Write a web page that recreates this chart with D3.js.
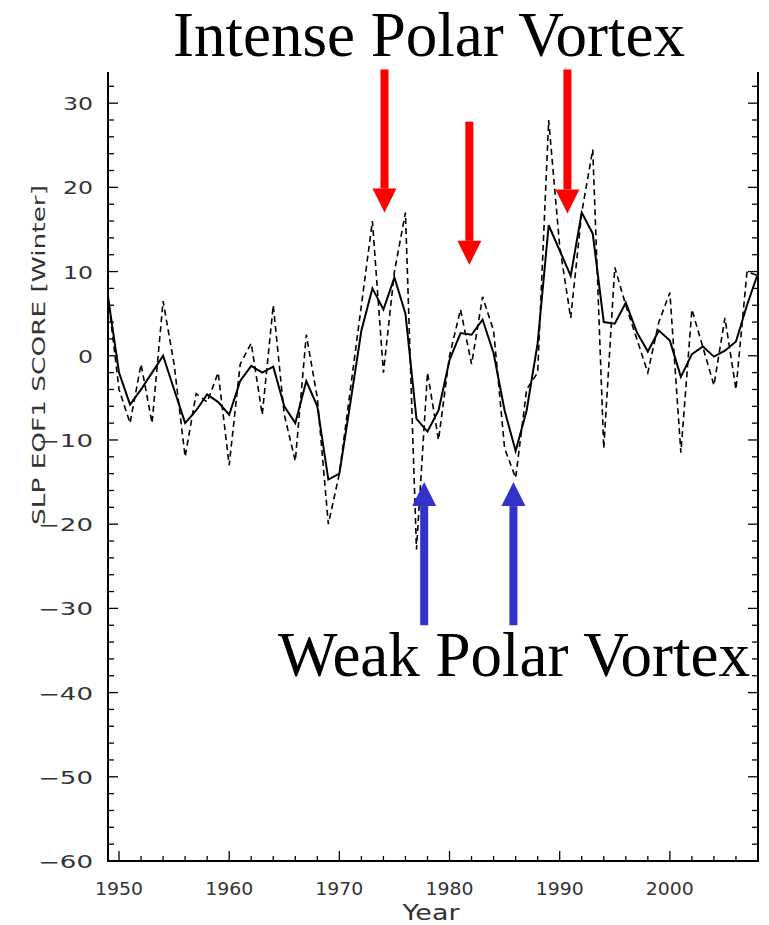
<!DOCTYPE html>
<html>
<head>
<meta charset="utf-8">
<script src="https://cdn.jsdelivr.net/npm/d3@7"></script>
<style>
  body { margin: 0; background: #fff; }
  svg { display: block; }
</style>
</head>
<body>
<svg id="chart" width="769" height="925"></svg>
<script>
// winter SLP EOF1 score, yearly values (dashed) and smoothed curve (solid)
var years = d3.range(1949, 2009);
var annual = [7, -4, -8, -1, -8, 6.5, -1, -12, -4.5, -5.5,
  -2, -13, -1, 1.5, -7, 6, -7, -12.5, 2.5, -5,
  -20, -14, -4, 6, 16, -2, 10, 17, -23, -2,
  -10, 0, 5.5, -1, 7, 3, -11, -14.5, -4, -2,
  28, 13, 4.5, 17, 24.5, -11, 10.5, 6, 2, -2,
  4, 7.5, -11.5, 5.5, 1, -3.5, 4.5, -4, 10, 9.5];
var smooth = [7, -2, -5.8, -4, -2, 0, -4, -8, -6.5, -4.6,
  -5.5, -7, -3, -1.2, -2, -1.3, -6, -8, -3, -6,
  -14.7, -14, -5.6, 3, 8, 5.5, 9.3, 5, -7.5, -9,
  -6.5, -0.5, 2.7, 2.5, 4.3, 0.3, -6.5, -11.3, -6.5, 1.5,
  15.5, 12.5, 9.5, 17, 14.5, 4, 3.8, 6.3, 2.8, 0.5,
  3, 1.8, -2.5, 0.2, 1.1, -0.1, 0.6, 1.7, 6, 9.8];
var yTicks = [30, 20, 10, 0, -10, -20, -30, -40, -50, -60];
var xTicks = [1950, 1960, 1970, 1980, 1990, 2000];
// annotation arrows: year, tip value, tail value
var intenseArrows = [[1974.1, 17, 34], [1981.8, 10.8, 27.8], [1990.7, 16.9, 34]];
var weakArrows = [[1977.7, -15, -32], [1985.8, -15, -32]];

var svg = d3.select('#chart'),
  pLeft = 108, pRight = 758, pTop = 72, pBottom = 861;

var x = d3.scaleLinear().domain([1949, 2008]).range([pLeft, pRight]);
var y = d3.scaleLinear().domain([-60, 33.7]).range([pBottom, pTop]);

var tickFont = '"DejaVu Sans", Verdana, sans-serif',
  serif = '"Liberation Serif", "Times New Roman", serif';

// frame: left, bottom and right lines, no top
svg.append('path')
  .attr('d', 'M' + pLeft + ',' + pTop + 'V' + pBottom + 'H' + pRight + 'V' + pTop)
  .attr('fill', 'none').attr('stroke', '#000').attr('stroke-width', 2);

// minor + major ticks, pointing inward
var yMinor = d3.range(-60, 34, 2), xMinor = d3.range(1950, 2009, 2);
var g = svg.append('g').attr('stroke', '#000').attr('stroke-width', 1.3);
yMinor.forEach(function (v) {
  var len = v % 10 === 0 ? 10 : 6;
  g.append('line').attr('x1', pLeft).attr('x2', pLeft + len).attr('y1', y(v)).attr('y2', y(v));
  g.append('line').attr('x1', pRight).attr('x2', pRight - len).attr('y1', y(v)).attr('y2', y(v));
});
xMinor.forEach(function (v) {
  var len = v % 10 === 0 ? 10 : 5;
  g.append('line').attr('x1', x(v)).attr('x2', x(v)).attr('y1', pBottom).attr('y2', pBottom - len);
});

// tick labels (wide, plotter-like lettering)
svg.append('g').selectAll('text').data(yTicks).join('text')
  .attr('x', 93).attr('y', function (d) { return y(d) + 7; })
  .attr('text-anchor', 'end')
  .attr('font-family', tickFont).attr('font-size', 17).attr('fill', '#333')
  .attr('textLength', function (d) { return String(Math.abs(d)).length * 15 + (d < 0 ? 25 : 0); })
  .attr('lengthAdjust', 'spacingAndGlyphs')
  .text(function (d) { return d < 0 ? '\u2212' + Math.abs(d) : d; });

svg.append('g').selectAll('text').data(xTicks).join('text')
  .attr('x', function (d) { return x(d); }).attr('y', 895)
  .attr('text-anchor', 'middle')
  .attr('font-family', tickFont).attr('font-size', 17).attr('fill', '#333')
  .attr('textLength', 48).attr('lengthAdjust', 'spacingAndGlyphs')
  .text(function (d) { return d; });

svg.append('text')
  .attr('transform', 'translate(45,355) rotate(-90)')
  .attr('text-anchor', 'middle')
  .attr('font-family', tickFont).attr('font-size', 18).attr('fill', '#333')
  .attr('textLength', 340).attr('lengthAdjust', 'spacingAndGlyphs')
  .text('SLP EOF1 SCORE [Winter]');

svg.append('text')
  .attr('x', 431).attr('y', 920)
  .attr('text-anchor', 'middle')
  .attr('font-family', tickFont).attr('font-size', 21).attr('fill', '#333')
  .attr('textLength', 57).attr('lengthAdjust', 'spacingAndGlyphs')
  .text('Year');

// series
var line = function (vals) {
  return d3.line()
    .x(function (d, i) { return x(years[i]); })
    .y(function (d) { return y(d); })(vals);
};
svg.append('path').attr('d', line(annual))
  .attr('fill', 'none').attr('stroke', '#000').attr('stroke-width', 1.6)
  .attr('stroke-dasharray', '6,4');
svg.append('path').attr('d', line(smooth))
  .attr('fill', 'none').attr('stroke', '#000').attr('stroke-width', 2);

// arrows
function arrow(a, color, down) {
  var cx = x(a[0]), tip = y(a[1]), tail = y(a[2]),
    head = 24, hw = 12, sw = 4;
  var base = down ? tip - head : tip + head;
  svg.append('rect')
    .attr('x', cx - sw).attr('width', 2 * sw)
    .attr('y', Math.min(base, tail)).attr('height', Math.abs(tail - base))
    .attr('fill', color);
  svg.append('path')
    .attr('d', 'M' + (cx - hw) + ',' + base + 'L' + (cx + hw) + ',' + base + 'L' + cx + ',' + tip + 'Z')
    .attr('fill', color);
}
intenseArrows.forEach(function (a) { arrow(a, '#ff0000', true); });
weakArrows.forEach(function (a) { arrow(a, '#3333cc', false); });

// annotation titles
svg.append('text')
  .attr('x', 429).attr('y', 56).attr('text-anchor', 'middle')
  .attr('font-family', serif).attr('font-size', 63)
  .text('Intense Polar Vortex');
svg.append('text')
  .attr('x', 514).attr('y', 676).attr('text-anchor', 'middle')
  .attr('font-family', serif).attr('font-size', 63)
  .text('Weak Polar Vortex');
</script>
</body>
</html>
